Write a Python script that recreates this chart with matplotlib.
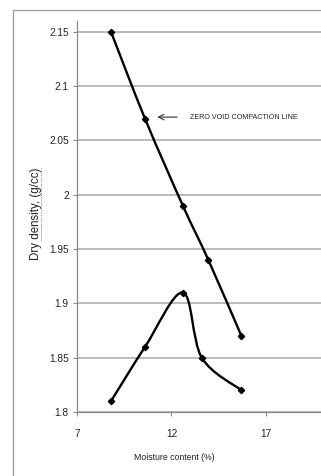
import numpy as np
import matplotlib
matplotlib.use('Agg')
import matplotlib.pyplot as plt
from matplotlib.path import Path
from matplotlib.patches import PathPatch, Rectangle

plt.rcParams['font.family'] = ['Liberation Sans', 'DejaVu Sans']

# Zero void compaction line
zv_moisture = [8.8, 10.6, 12.6, 13.95, 15.7]
zv_density = [2.15, 2.07, 1.99, 1.94, 1.87]

# Compaction curve
cc_moisture = [8.8, 10.6, 12.6, 13.6, 15.7]
cc_density = [1.81, 1.86, 1.91, 1.85, 1.82]

x_ticks = [7, 12, 17]
y_ticks = [1.8, 1.85, 1.9, 1.95, 2.0, 2.05, 2.1, 2.15]
y_ticklabels = ['1.8', '1.85', '1.9', '1.95', '2', '2.05', '2.1', '2.15']


def smooth_path(xs, ys):
    # Catmull-Rom style bezier through every point (spreadsheet "smoothed line")
    pts = np.column_stack([xs, ys])
    verts = [pts[0]]
    codes = [Path.MOVETO]
    n = len(pts)
    for i in range(n - 1):
        p0 = pts[i - 1] if i > 0 else pts[i]
        p1 = pts[i]
        p2 = pts[i + 1]
        p3 = pts[i + 2] if i + 2 < n else pts[i + 1]
        c1 = p1 + (p2 - p0) / 6.0
        c2 = p2 - (p3 - p1) / 6.0
        verts += [c1, c2, p2]
        codes += [Path.CURVE4] * 3
    return Path(verts, codes)


fig = plt.figure(figsize=(3.21, 4.76), dpi=100)
fig.patch.set_facecolor('white')

# outer chart frame
fig.patches.append(Rectangle((13 / 321, -0.1), 1.2, (476 - 10) / 476 + 0.1,
                             transform=fig.transFigure, fill=False,
                             edgecolor='#9a9a9a', linewidth=0.9))

ax = fig.add_axes([77 / 321, 64 / 476, 283.5 / 321, 391 / 476])
ax.set_xlim(7, 22)
ax.set_ylim(1.8, 2.16)

for xs, ys in [(zv_moisture, zv_density), (cc_moisture, cc_density)]:
    ax.add_patch(PathPatch(smooth_path(xs, ys), fill=False, edgecolor='black',
                           linewidth=1.7, zorder=3))
    ax.plot(xs, ys, linestyle='none', marker='D', markersize=3.2,
            color='black', zorder=4)

ax.set_xticks(x_ticks)
ax.set_yticks(y_ticks)
ax.set_yticklabels(y_ticklabels)
ax.tick_params(axis='both', labelsize=7.3, colors='#8a8a8a', labelcolor='#222222',
               length=3, width=0.8, direction='out', pad=3)
ax.tick_params(axis='x', pad=9)
ax.grid(True, axis='y', color='#a8a8a8', linewidth=1.1)
ax.set_axisbelow(True)
for side in ['top', 'right']:
    ax.spines[side].set_visible(False)
for side in ['left', 'bottom']:
    ax.spines[side].set_color('#8a8a8a')
    ax.spines[side].set_linewidth(0.9)

ax.annotate('', xy=(11.1, 2.0715), xytext=(12.45, 2.0715),
            arrowprops=dict(arrowstyle='->', color='#333333', lw=0.8))
ax.text(12.98, 2.0715, 'ZERO VOID COMPACTION LINE', fontsize=5.1,
        va='center', ha='left', color='#222222')

fig.text(174 / 321, 1 - 458 / 476, 'Moisture content (%)', fontsize=6.3,
         ha='center', va='center', color='#222222')
fig.text(36 / 321, 1 - 214 / 476, 'Dry density, (g/cc)', fontsize=8.3,
         rotation=90, ha='center', va='center', color='#222222')
# spell-check squiggle under the label
fig.lines.append(plt.Line2D([41 / 321, 41 / 321], [1 - 240 / 476, 1 - 168 / 476],
                            transform=fig.transFigure, color='#5cb85c',
                            linewidth=0.8, linestyle=(0, (1, 1))))

fig.savefig('out.png', dpi=100, facecolor='white')
